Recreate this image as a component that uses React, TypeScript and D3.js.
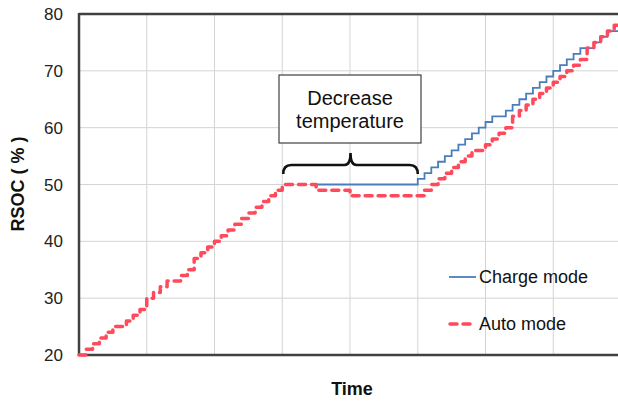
import React from 'react';
import * as d3 from 'd3';

// RSOC vs time, charge mode vs auto mode
const yTicks = [20, 30, 40, 50, 60, 70, 80];
const xGrid = [1, 2, 3, 4, 5, 6, 7, 8];

// [time, rsoc]
const autoMode: [number, number][] = [
  [0, 20], [0.1, 21], [0.2, 22], [0.3, 23], [0.4, 24], [0.5, 25], [0.6, 25], [0.7, 26],
  [0.8, 27], [0.9, 28], [1.0, 30], [1.1, 31], [1.2, 32], [1.3, 33], [1.4, 33], [1.5, 34],
  [1.6, 35], [1.7, 37], [1.8, 38], [1.9, 39], [2.0, 40], [2.1, 41], [2.2, 42], [2.3, 43],
  [2.4, 44], [2.5, 45], [2.6, 46], [2.7, 47], [2.8, 48], [2.9, 49], [3.0, 50], [3.5, 49],
  [4.0, 48], [5.1, 49], [5.2, 50], [5.3, 51], [5.4, 52], [5.5, 53], [5.6, 54], [5.7, 55],
  [5.8, 56], [5.9, 56], [6.0, 57], [6.1, 58], [6.2, 59], [6.3, 60], [6.4, 62], [6.5, 63],
  [6.6, 64], [6.7, 65], [6.8, 66], [6.9, 67], [7.0, 68], [7.1, 69], [7.2, 70], [7.3, 71],
  [7.4, 72], [7.5, 74], [7.6, 75], [7.7, 76], [7.8, 77], [7.9, 78], [8.0, 78],
];

const chargeMode: [number, number][] = [
  [3.5, 50], [5.0, 51], [5.1, 52], [5.2, 53], [5.3, 54], [5.4, 55], [5.5, 56], [5.6, 57],
  [5.7, 58], [5.8, 59], [5.9, 60], [6.0, 61], [6.1, 62], [6.2, 62], [6.3, 63], [6.4, 64],
  [6.5, 65], [6.6, 66], [6.7, 67], [6.8, 68], [6.9, 69], [7.0, 70], [7.1, 71], [7.2, 72],
  [7.3, 73], [7.4, 74], [7.5, 74], [7.6, 75], [7.7, 76], [7.8, 77], [7.9, 77], [8.0, 78],
];

const W = 618;
const H = 403;
const left = 79;
const top = 14;
const bottom = 355;

const App = () => {
  const x = d3.scaleLinear().domain([0, 8]).range([left, 621]);
  const y = d3.scaleLinear().domain([20, 80]).range([bottom, top]);

  const line = d3
    .line<[number, number]>()
    .x(d => x(d[0]))
    .y(d => y(d[1]))
    .curve(d3.curveStepAfter);

  const font = "'Liberation Sans', Arial, sans-serif";
  const axisColor = '#404040';
  const blue = '#4a7ebb';
  const red = '#ff4a5c';

  // brace over the temperature-decrease period
  const bx0 = x(3.0) + 1;
  const bx1 = x(5.0);
  const bm = (bx0 + bx1) / 2;
  const by = 165;
  const brace =
    `M${bx0},${by + 9} Q${bx0},${by} ${bx0 + 8},${by} L${bm - 6},${by} ` +
    `Q${bm},${by} ${bm},${by - 12} Q${bm},${by} ${bm + 6},${by} ` +
    `L${bx1 - 8},${by} Q${bx1},${by} ${bx1},${by + 9}`;

  return (
    <svg width={W} height={H} style={{ display: 'block', position: 'absolute', left: 0, top: 0 }} fontFamily={font}>
      <rect width={W} height={H} fill="#fff" />
      {/* grid */}
      {yTicks.slice(1, -1).map(t => (
        <line key={'gy' + t} x1={left} x2={W} y1={y(t)} y2={y(t)} stroke="#d4d4d4" strokeWidth={1} />
      ))}
      {xGrid.map(t => (
        <line key={'gx' + t} x1={x(t)} x2={x(t)} y1={top} y2={bottom} stroke="#d4d4d4" strokeWidth={1} />
      ))}
      {/* frame */}
      <line x1={left} x2={W} y1={top} y2={top} stroke={axisColor} strokeWidth={2.5} />
      <line x1={left} x2={W} y1={bottom} y2={bottom} stroke={axisColor} strokeWidth={2.5} />
      <line x1={left} x2={left} y1={top - 1} y2={bottom + 1} stroke={axisColor} strokeWidth={2.5} />
      {/* y tick labels */}
      {yTicks.map(t => (
        <text key={'ty' + t} x={63} y={y(t)} dy="0.36em" textAnchor="end" fontSize={17} fill="#222">
          {t}
        </text>
      ))}
      <text
        transform={`translate(${24},${184}) rotate(-90)`}
        textAnchor="middle"
        fontSize={18}
        fontWeight="bold"
        fill="#111"
      >
        RSOC ( % )
      </text>
      <text x={352} y={395} textAnchor="middle" fontSize={18} fontWeight="bold" fill="#111">
        Time
      </text>
      {/* series */}
      <path d={line(chargeMode) || ''} fill="none" stroke={blue} strokeWidth={1.8} />
      <path
        d={line(autoMode) || ''}
        fill="none"
        stroke={red}
        strokeWidth={3.5}
        strokeDasharray="7,6"
        strokeLinejoin="round"
        strokeLinecap="round"
      />
      {/* annotation */}
      <rect x={279} y={75} width={142} height={68} fill="#fff" stroke={axisColor} strokeWidth={1.2} />
      <text x={350} y={105} textAnchor="middle" fontSize={20} fill="#111">
        Decrease
      </text>
      <text x={350} y={128} textAnchor="middle" fontSize={20} fill="#111">
        temperature
      </text>
      <path d={brace} fill="none" stroke="#111" strokeWidth={2.6} />
      {/* legend */}
      <line x1={449} x2={476} y1={277} y2={277} stroke={blue} strokeWidth={1.8} />
      <text x={479} y={283} fontSize={18} fill="#111">
        Charge mode
      </text>
      <line x1={450} x2={472} y1={324} y2={324} stroke={red} strokeWidth={3.5} strokeDasharray="7,6" strokeLinecap="round" />
      <text x={479} y={330} fontSize={18} fill="#111">
        Auto mode
      </text>
    </svg>
  );
};

export default App;
